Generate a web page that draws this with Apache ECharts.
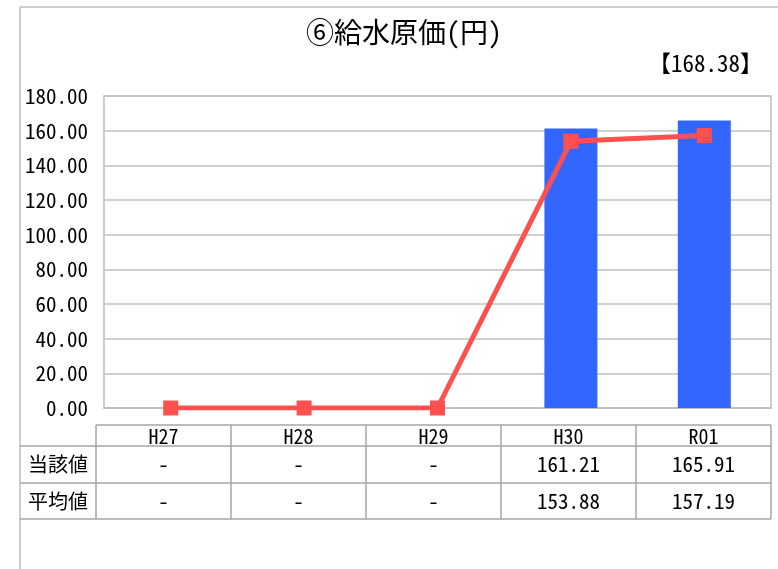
<!DOCTYPE html>
<html><head><meta charset="utf-8">
<script src="https://cdn.jsdelivr.net/npm/echarts@6/dist/echarts.min.js"></script>
<style>html,body{margin:0;padding:0;background:#fff}#c{width:778px;height:569px}</style>
</head><body><div id="c"></div>
<script>
const categories = ['H27','H28','H29','H30','R01'];
const currentValues = [null, null, null, 161.21, 165.91];
const averageValues = [null, null, null, 153.88, 157.19];
const rowLabels = ['当該値','平均値'];
const titleText = '⑥給水原価(円)';
const refText = '【168.38】';
const yTicks = {min: 0, max: 180, interval: 20};

const FONT = '"Noto Sans Mono CJK JP", "Noto Sans CJK JP", sans-serif';
const chart = echarts.init(document.getElementById('c'));
const lineData = averageValues.map(v => v == null ? 0 : v);
const fmt = v => v == null ? '-' : v.toFixed(2);

// table geometry
const tLeft = 96, tRight = 771, labelLeft = 20;
const colW = (tRight - tLeft) / categories.length;
const rowsY = [425, 446, 483, 519];
const lineColor = '#a6a6a6';
const g = [];
g.push({type:'line', shape:{x1:20,y1:7,x2:778,y2:7}, style:{stroke:'#bfbfbf', lineWidth:1.5}});
g.push({type:'line', shape:{x1:20,y1:7,x2:20,y2:569}, style:{stroke:'#bfbfbf', lineWidth:1.5}});
g.push({type:'line', shape:{x1:tLeft,y1:rowsY[0],x2:tRight,y2:rowsY[0]}, style:{stroke:lineColor, lineWidth:1.5}});
for (let i = 1; i < rowsY.length; i++) {
  g.push({type:'line', shape:{x1:labelLeft,y1:rowsY[i],x2:tRight,y2:rowsY[i]}, style:{stroke:lineColor, lineWidth:1.5}});
}
for (let i = 0; i <= categories.length; i++) {
  const x = tLeft + colW * i;
  g.push({type:'line', shape:{x1:x,y1:rowsY[0],x2:x,y2:rowsY[3]}, style:{stroke:lineColor, lineWidth:1.5}});
}
categories.forEach((c, i) => {
  g.push({type:'text', x: tLeft + colW*(i+0.5), y:(rowsY[0]+rowsY[1])/2+1,
    style:{text:c, fill:'#000', font:'20px ' + FONT, textAlign:'center', textVerticalAlign:'middle'}});
});
const rows = [currentValues, averageValues];
rows.forEach((arr, r) => {
  const cy = (rowsY[r+1] + rowsY[r+2]) / 2;
  g.push({type:'text', x:(labelLeft+tLeft)/2, y:cy,
    style:{text:rowLabels[r], fill:'#000', font:'20px ' + FONT, textAlign:'center', textVerticalAlign:'middle'}});
  arr.forEach((v, i) => {
    g.push({type:'text', x: tLeft + colW*(i+0.5), y: cy,
      style:{text:fmt(v), fill:'#000', font:'21px ' + FONT, textAlign:'center', textVerticalAlign:'middle'}});
  });
});
g.push({type:'text', x:404, y:32, style:{text:titleText, fill:'#000', font:'28px ' + FONT, textAlign:'center', textVerticalAlign:'middle'}});
g.push({type:'text', x:763, y:63, style:{text:refText, fill:'#000', font:'23px ' + FONT, textAlign:'right', textVerticalAlign:'middle'}});

chart.setOption({
  animation: false,
  backgroundColor: '#fff',
  grid: {left:104, right:7, top:96, bottom:161, show:true, borderColor:'#bfbfbf', borderWidth:1.5},
  xAxis: {type:'category', data:categories, axisLine:{show:true, lineStyle:{color:'#bfbfbf', width:1.5}},
    axisTick:{show:false}, axisLabel:{show:false}, splitLine:{show:false}},
  yAxis: {type:'value', min:yTicks.min, max:yTicks.max, interval:yTicks.interval,
    axisLine:{show:false}, axisTick:{show:false},
    axisLabel:{formatter: v => v.toFixed(2), color:'#000', fontSize:21, fontFamily:FONT, margin:16},
    splitLine:{lineStyle:{color:'#c0c0c0', width:1.5}}},
  series: [
    {type:'bar', data:currentValues, barWidth:53, itemStyle:{color:'#3366ff'}},
    {type:'line', data:lineData, symbol:'rect', symbolSize:15, lineStyle:{color:'#ff5050', width:5},
      itemStyle:{color:'#ff5050'}}
  ],
  graphic: g
});
</script></body></html>
